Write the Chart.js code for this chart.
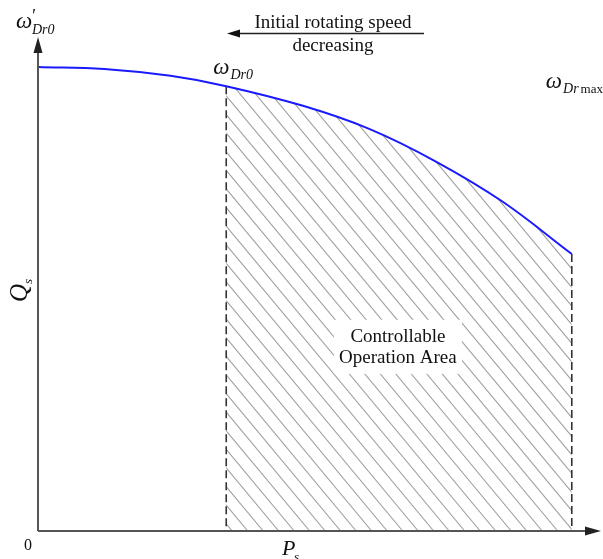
<!DOCTYPE html>
<html>
<head>
<meta charset="utf-8">
<script src="https://cdn.jsdelivr.net/npm/chart.js@4/dist/chart.umd.min.js"></script>
<style>
html,body{margin:0;padding:0;background:#fff;}
#wrap{width:603px;height:559px;position:relative;}
</style>
</head>
<body>
<div id="wrap"><canvas id="c" width="603" height="559"></canvas></div>
<script>
// Data (arbitrary units: Ps on x, Qs on y)
const psValues = [0, 12, 24, 34.1, 48, 60, 72, 84, 96.7];
const qsValues = [94.5, 94.1, 92.7, 90.6, 86.6, 81.9, 75.3, 67.2, 56.4];
const boundaryIndex = [3, 8];           // ωDr0 and ωDr max points
const boundaryLabels = ['ω', 'ω'];
const boundarySubs = ['Dr0', 'Dr max'];
const areaLabel = ['Controllable', 'Operation Area'];
const arrowLabel = ['Initial rotating speed', 'decreasing'];

const points = psValues.map((x, i) => ({x: x, y: qsValues[i]}));
const SERIF = '"Liberation Serif", "DejaVu Serif", serif';

const decor = {
  id: 'decor',
  beforeDatasetsDraw(chart) {
    const ctx = chart.ctx, ca = chart.chartArea;
    const xs = chart.scales.x, ys = chart.scales.y;
    const meta = chart.getDatasetMeta(0);
    const line = meta.dataset;
    if (line.updateControlPoints) line.updateControlPoints(ca, 'x');
    const xa = xs.getPixelForValue(psValues[boundaryIndex[0]]);
    const xb = xs.getPixelForValue(psValues[boundaryIndex[1]]);
    const yb = ys.getPixelForValue(0);
    // hatch
    ctx.save();
    ctx.beginPath();
    ctx.rect(xa, ca.top - 50, xb - xa, yb - ca.top + 50);
    ctx.clip();
    ctx.beginPath();
    line.path(ctx);
    ctx.lineTo(xb, yb);
    ctx.lineTo(xs.getPixelForValue(0), yb);
    ctx.closePath();
    ctx.clip();
    ctx.strokeStyle = '#a0a0a0';
    ctx.lineWidth = 1.1;
    const sp = 15.5, slope = 1.2;
    const H = yb - ca.top + 60;
    ctx.beginPath();
    for (let a = xa - H / slope - sp + 6; a < xb + sp; a += sp) {
      ctx.moveTo(a, yb - H);
      ctx.lineTo(a + H / slope, yb);
    }
    ctx.stroke();
    ctx.restore();

    // white box behind area text
    const cx = xs.getPixelForValue(65.2);
    const cy = ys.getPixelForValue(37.5);
    ctx.save();
    ctx.fillStyle = '#fff';
    ctx.fillRect(cx - 64, cy - 27, 128, 54);
    ctx.restore();

    // dashed boundary lines
    ctx.save();
    ctx.strokeStyle = '#333';
    ctx.lineWidth = 1.6;
    ctx.setLineDash([8, 4]);
    boundaryIndex.forEach(i => {
      const px = xs.getPixelForValue(psValues[i]);
      const py = ys.getPixelForValue(qsValues[i]);
      ctx.beginPath();
      ctx.moveTo(px, py);
      ctx.lineTo(px, yb);
      ctx.stroke();
    });
    ctx.restore();
  },
  afterDraw(chart) {
    const ctx = chart.ctx, ca = chart.chartArea;
    const xs = chart.scales.x, ys = chart.scales.y;
    const x0 = xs.getPixelForValue(0), y0 = ys.getPixelForValue(0);
    ctx.save();
    // axes
    ctx.strokeStyle = '#555';
    ctx.fillStyle = '#222';
    ctx.lineWidth = 2;
    ctx.beginPath();
    ctx.moveTo(x0, y0);
    ctx.lineTo(x0, ca.top + 8);
    ctx.moveTo(x0, y0);
    ctx.lineTo(ca.right + 2, y0);
    ctx.stroke();
    // arrowheads
    ctx.beginPath();
    ctx.moveTo(x0, ca.top - 3);
    ctx.lineTo(x0 - 4.5, ca.top + 13);
    ctx.lineTo(x0 + 4.5, ca.top + 13);
    ctx.closePath();
    ctx.fill();
    ctx.beginPath();
    ctx.moveTo(ca.right + 11, y0);
    ctx.lineTo(ca.right - 5, y0 - 4.5);
    ctx.lineTo(ca.right - 5, y0 + 4.5);
    ctx.closePath();
    ctx.fill();

    ctx.fillStyle = '#111';
    ctx.textBaseline = 'alphabetic';
    // area label
    const cx = xs.getPixelForValue(65.2);
    const cy = ys.getPixelForValue(37.5);
    ctx.font = '19px ' + SERIF;
    ctx.textAlign = 'center';
    ctx.fillText(areaLabel[0], cx, cy - 5);
    ctx.fillText(areaLabel[1], cx, cy + 16);

    // top arrow annotation
    const ax = 333;
    ctx.font = '19px ' + SERIF;
    ctx.fillText(arrowLabel[0], ax, 28);
    ctx.fillText(arrowLabel[1], ax, 51);
    ctx.strokeStyle = '#222';
    ctx.lineWidth = 1.3;
    ctx.beginPath();
    ctx.moveTo(236, 33.5);
    ctx.lineTo(424, 33.5);
    ctx.stroke();
    ctx.beginPath();
    ctx.moveTo(227, 33.5);
    ctx.lineTo(240, 29.5);
    ctx.lineTo(240, 37.5);
    ctx.closePath();
    ctx.fill();

    // omega labels at boundaries
    ctx.textAlign = 'left';
    const offs = [[-13, -12], [-26, -166]];
    boundaryIndex.forEach((i, k) => {
      const px = xs.getPixelForValue(psValues[i]) + offs[k][0];
      const py = ys.getPixelForValue(qsValues[i]) + offs[k][1];
      ctx.font = 'italic 23px ' + SERIF;
      ctx.fillText(boundaryLabels[k], px, py);
      const w = ctx.measureText(boundaryLabels[k]).width;
      ctx.font = 'italic 14px ' + SERIF;
      if (k === 0) {
        ctx.fillText(boundarySubs[k], px + w + 1, py + 5);
      } else {
        ctx.fillText('Dr', px + w + 1, py + 5);
        const w2 = ctx.measureText('Dr').width;
        ctx.font = '13px ' + SERIF;
        ctx.fillText('max', px + w + w2 + 3, py + 5);
      }
    });

    // y-axis top label ω'Dr0
    ctx.font = 'italic 23px ' + SERIF;
    ctx.fillText('ω', 16, 28);
    ctx.font = 'italic 18px ' + SERIF;
    ctx.fillText('\u2032', 31, 22);
    ctx.font = 'italic 14px ' + SERIF;
    ctx.fillText('Dr0', 32, 34);

    // origin
    ctx.font = '16px ' + SERIF;
    ctx.textAlign = 'center';
    ctx.fillText('0', 28, 550);

    // Ps
    ctx.textAlign = 'left';
    ctx.font = 'italic 22px ' + SERIF;
    ctx.fillText('P', 282, 555);
    ctx.font = 'italic 13px ' + SERIF;
    ctx.fillText('s', 294, 561);

    // Qs rotated
    ctx.save();
    ctx.translate(27, 302);
    ctx.rotate(-Math.PI / 2);
    ctx.font = 'italic 25px ' + SERIF;
    ctx.fillText('Q', 0, 0);
    ctx.font = 'italic 13px ' + SERIF;
    ctx.fillText('s', 18, 5);
    ctx.restore();
    ctx.restore();
  }
};

new Chart(document.getElementById('c'), {
  type: 'line',
  data: {
    datasets: [{
      data: points,
      borderColor: '#1a1aff',
      borderWidth: 2,
      pointRadius: 0,
      fill: false,
      tension: 0.4
    }]
  },
  options: {
    responsive: false,
    animation: false,
    layout: {padding: {left: 38, right: 13, top: 40, bottom: 28}},
    plugins: {legend: {display: false}, tooltip: {enabled: false}},
    scales: {
      x: {type: 'linear', min: 0, max: 100, display: false},
      y: {type: 'linear', min: 0, max: 100, display: false}
    }
  },
  plugins: [decor]
});
</script>
</body>
</html>
